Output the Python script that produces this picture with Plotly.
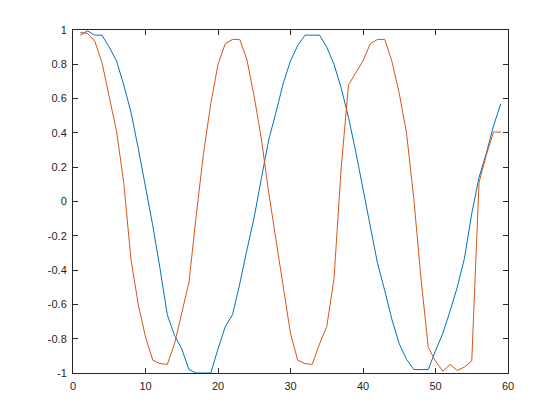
import plotly.graph_objects as go

x_vals = list(range(1, 60))

series_blue = [0.97, 0.995, 0.97, 0.97, 0.90, 0.82, 0.68, 0.52, 0.31, 0.09,
               -0.14, -0.39, -0.66, -0.78, -0.86, -0.98, -1.0, -1.0, -1.0, -0.86,
               -0.73, -0.66, -0.48, -0.28, -0.09, 0.14, 0.36, 0.52, 0.69, 0.82,
               0.91, 0.97, 0.97, 0.97, 0.90, 0.80, 0.66, 0.49, 0.29, 0.08,
               -0.15, -0.36, -0.52, -0.69, -0.83, -0.92, -0.98, -0.98, -0.98, -0.87,
               -0.77, -0.64, -0.50, -0.33, -0.07, 0.14, 0.28, 0.44, 0.57]

series_orange = [0.985, 0.98, 0.935, 0.81, 0.61, 0.41, 0.11, -0.34, -0.60, -0.79,
                 -0.925, -0.945, -0.95, -0.83, -0.65, -0.47, -0.08, 0.28, 0.57, 0.80,
                 0.92, 0.945, 0.945, 0.825, 0.61, 0.36, 0.05, -0.23, -0.50, -0.77,
                 -0.926, -0.945, -0.95, -0.83, -0.73, -0.45, 0.20, 0.68, 0.75, 0.82,
                 0.92, 0.945, 0.945, 0.815, 0.63, 0.40, 0.02, -0.45, -0.85, -0.93,
                 -0.99, -0.95, -0.985, -0.965, -0.93, 0.11, 0.27, 0.405, 0.405]

x_tickvals = [0, 10, 20, 30, 40, 50, 60]
x_ticktext = ["0", "10", "20", "30", "40", "50", "60"]
y_tickvals = [-1, -0.8, -0.6, -0.4, -0.2, 0, 0.2, 0.4, 0.6, 0.8, 1]
y_ticktext = ["-1", "-0.8", "-0.6", "-0.4", "-0.2", "0", "0.2", "0.4", "0.6", "0.8", "1"]

fig = go.Figure()
fig.add_trace(go.Scatter(x=x_vals, y=series_blue, mode="lines",
                         line=dict(color="#0072BD", width=1)))
fig.add_trace(go.Scatter(x=x_vals, y=series_orange, mode="lines",
                         line=dict(color="#D95319", width=1)))

axis_common = dict(showgrid=False, zeroline=False, showline=True, linecolor="#262626",
                   linewidth=1, mirror="ticks", ticks="inside", ticklen=5,
                   tickcolor="#262626", tickwidth=1, ticklabelstandoff=3,
                   tickfont=dict(family="Liberation Sans", size=11, color="#262626"))

fig.update_layout(
    width=560, height=420,
    paper_bgcolor="white", plot_bgcolor="white",
    margin=dict(l=65, r=60, t=22, b=55),
    showlegend=False,
    xaxis=dict(range=[0, 60], tickvals=x_tickvals, ticktext=x_ticktext, **axis_common),
    yaxis=dict(range=[-1, 1], tickvals=y_tickvals, ticktext=y_ticktext, **axis_common),
)

fig.write_html("out.html")
